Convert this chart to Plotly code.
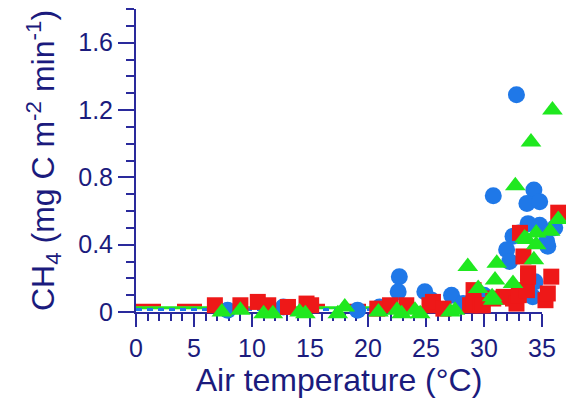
import plotly.graph_objects as go

# Air temperature (°C) and CH4 flux (mg C m-2 min-1) for the three series
blue_temp = [7.9, 12.7, 19.1, 21.0, 22.7, 22.6, 24.9, 25.5, 27.2, 28.2, 30.0,
             30.8, 32.8, 34.3, 33.7, 34.8, 33.8, 34.8, 36.1, 32.5, 31.95,
             32.2, 35.5, 34.4, 34.2, 35.4, 33.0]
blue_flux = [0.01, 0.03, 0.01, 0.03, 0.21, 0.12, 0.12, 0.07, 0.10, 0.05, 0.10,
             0.69, 1.29, 0.725, 0.645, 0.655, 0.525, 0.515, 0.50, 0.45, 0.37,
             0.30, 0.39, 0.18, 0.09, 0.42, 0.47]

red_temp = [6.8, 9.0, 10.5, 11.4, 13.1, 14.7, 15.1, 20.8, 21.9, 23.3, 25.3,
            25.6, 26.5, 28.8, 29.1, 29.1, 29.7, 29.9, 30.8, 31.7, 32.5, 32.8,
            33.0, 33.1, 33.4, 33.7, 33.8, 33.8, 35.3, 35.5, 35.8, 36.4]
red_flux = [0.04, 0.04, 0.06, 0.04, 0.03, 0.05, 0.04, 0.02, 0.04, 0.04, 0.04,
            0.06, 0.02, 0.04, 0.13, 0.05, 0.04, 0.04, 0.08, 0.09, 0.08, 0.05,
            0.10, 0.47, 0.33, 0.13, 0.23, 0.21, 0.07, 0.11, 0.21, 0.59]

green_temp = [7.4, 9.0, 11.0, 11.8, 14.1, 14.6, 17.4, 18.0, 20.9, 22.5, 22.9,
              24.05, 24.5, 27.1, 27.5, 28.6, 29.5, 30.7, 30.8, 30.95, 31.1,
              32.5, 32.7, 33.5, 33.7, 34.05, 34.3, 34.5, 34.5, 35.7, 35.9, 36.4]
green_flux = [0.0, 0.01, -0.01, -0.01, 0.0, -0.01, -0.01, 0.03, 0.0, 0.01,
              -0.01, 0.01, -0.01, 0.0, 0.01, 0.27, 0.14, 0.09, 0.07, 0.19,
              0.29, 0.17, 0.75, 0.44, 0.43, 1.01, 0.31, 0.47, 0.40, 0.48,
              1.20, 0.55]

# Baseline levels per series
base_temp = [0, 30]
red_base = [0.04, 0.04]
green_base = [0.025, 0.025]
blue_base = [0.015, 0.015]

x_ticks = [0, 5, 10, 15, 20, 25, 30, 35]
y_ticks = [0, 0.4, 0.8, 1.2, 1.6]
y_tick_text = ["0", "0.4", "0.8", "1.2", "1.6"]

BLUE = "#1f78e8"
RED = "#ee1818"
GREEN = "#1fe81f"
NAVY_TEXT = "#1b1b7d"
NAVY_AXIS = "#2a2a9c"
FONT = "Liberation Sans, Arial, sans-serif"

# Page geometry (px)
W, H = 569, 401
L, T = 136, 9               # left / top margins
X_END = 542                 # pixel where the x axis (35 °C) ends
Y_ZERO = 312                # pixel of the zero flux line
PLOT_RIGHT = 566            # data area reaches a little past 35 °C
PLOT_BOTTOM = 330           # and a little below zero
X_MAX, Y_MAX = 35, 1.8

plot_w = PLOT_RIGHT - L
plot_h = PLOT_BOTTOM - T
px_per_x = (X_END - L) / X_MAX
px_per_y = (Y_ZERO - T) / Y_MAX

# The marks live on a slightly larger data area so points past 35 °C
# and just below zero stay visible; the drawn axes use the inner box.
data_x_range = [0, plot_w / px_per_x]
data_y_range = [-(PLOT_BOTTOM - Y_ZERO) / px_per_y, Y_MAX]
axis_x_domain = [0, (X_END - L) / plot_w]
axis_y_domain = [(PLOT_BOTTOM - Y_ZERO) / plot_h, 1]

fig = go.Figure()

# empty trace that puts the visible axes on the page
fig.add_trace(go.Scatter(x=[], y=[], xaxis="x", yaxis="y", mode="markers",
                         hoverinfo="skip"))

line_kw = dict(mode="lines", xaxis="x2", yaxis="y2", hoverinfo="skip")
fig.add_trace(go.Scatter(x=base_temp, y=red_base,
                         line=dict(color=RED, width=3, dash="25px,16px"), **line_kw))
fig.add_trace(go.Scatter(x=base_temp, y=green_base,
                         line=dict(color=GREEN, width=3), **line_kw))
fig.add_trace(go.Scatter(x=base_temp, y=blue_base,
                         line=dict(color=BLUE, width=3, dash="6px,5px"), **line_kw))

fig.add_trace(go.Scatter(x=blue_temp, y=blue_flux, mode="markers", xaxis="x2", yaxis="y2",
                         marker=dict(symbol="circle", size=17, color=BLUE)))
fig.add_trace(go.Scatter(x=red_temp, y=red_flux, mode="markers", xaxis="x2", yaxis="y2",
                         marker=dict(symbol="square", size=16, color=RED)))
fig.add_trace(go.Scatter(x=green_temp, y=green_flux, mode="markers", xaxis="x2", yaxis="y2",
                         marker=dict(symbol="triangle-up", size=18, color=GREEN)))

fig.update_layout(
    width=W, height=H, autosize=False,
    margin=dict(l=L, r=W - PLOT_RIGHT, t=T, b=H - PLOT_BOTTOM, pad=0,
                autoexpand=False),
    paper_bgcolor="white", plot_bgcolor="rgba(0,0,0,0)",
    showlegend=False,
    font=dict(family=FONT, color=NAVY_TEXT),
    xaxis=dict(
        domain=axis_x_domain, range=[0, X_MAX], autorange=False, anchor="y",
        automargin=False, showgrid=False, zeroline=False,
        showline=True, linecolor=NAVY_AXIS, linewidth=2,
        ticks="outside", ticklen=13, tickwidth=2, tickcolor=NAVY_AXIS,
        tickvals=x_ticks, tickfont=dict(size=25, color=NAVY_TEXT),
        minor=dict(dtick=1, ticks="outside", ticklen=7, tickwidth=1.5,
                   tickcolor=NAVY_AXIS, showgrid=False),
        title=dict(text="Air temperature (°C)",
                   font=dict(size=32, color=NAVY_TEXT), standoff=2),
    ),
    yaxis=dict(
        domain=axis_y_domain, range=[0, Y_MAX], autorange=False, anchor="x",
        automargin=False, showgrid=False, zeroline=False,
        showline=True, linecolor=NAVY_AXIS, linewidth=2,
        ticks="outside", ticklen=16, tickwidth=2, tickcolor=NAVY_AXIS,
        tickvals=y_ticks, ticktext=y_tick_text,
        tickfont=dict(size=25, color=NAVY_TEXT),
        minor=dict(dtick=0.1, ticks="outside", ticklen=8, tickwidth=1.5,
                   tickcolor=NAVY_AXIS, showgrid=False),
        title=dict(text="CH<sub>4</sub> (mg C m<sup>-2</sup> min<sup>-1</sup>)",
                   font=dict(size=32, color=NAVY_TEXT), standoff=14),
    ),
    xaxis2=dict(domain=[0, 1], range=data_x_range, autorange=False,
                anchor="y2", visible=False, automargin=False),
    yaxis2=dict(domain=[0, 1], range=data_y_range, autorange=False,
                anchor="x2", visible=False, automargin=False),
)

fig.write_html("out.html")
